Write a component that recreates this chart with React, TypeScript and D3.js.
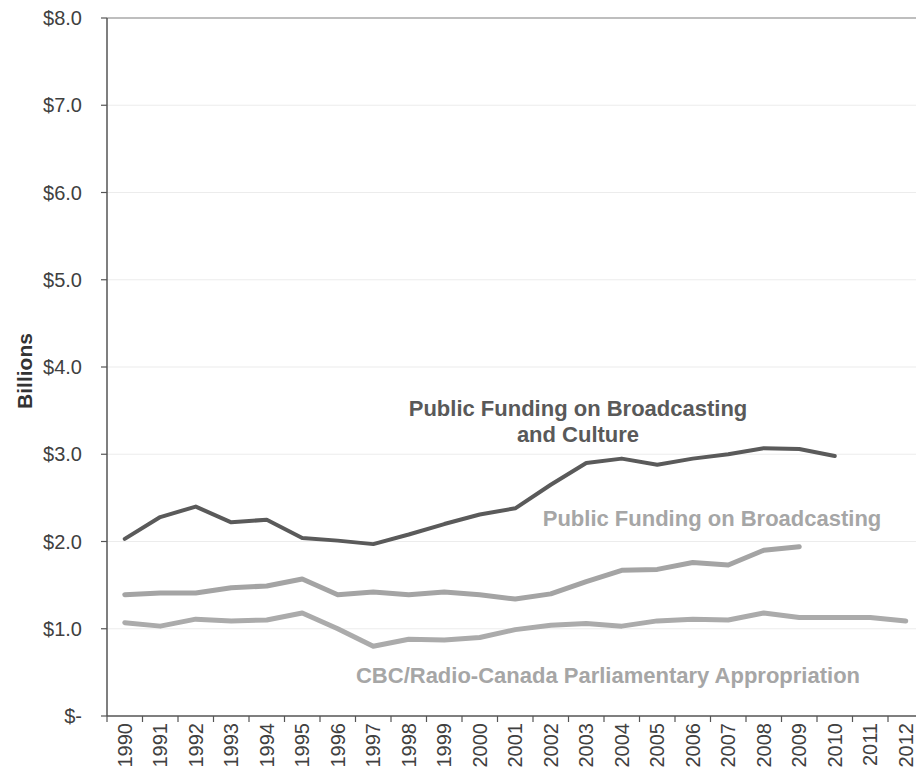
import React from "react";
import * as d3 from "d3";

const years = [
  "1990","1991","1992","1993","1994","1995","1996","1997","1998","1999","2000",
  "2001","2002","2003","2004","2005","2006","2007","2008","2009","2010","2011","2012",
];

const broadcastingAndCulture = [
  2.03, 2.28, 2.40, 2.22, 2.25, 2.04, 2.01, 1.97, 2.08, 2.20, 2.31,
  2.38, 2.65, 2.90, 2.95, 2.88, 2.95, 3.00, 3.07, 3.06, 2.98,
];

const broadcasting = [
  1.39, 1.41, 1.41, 1.47, 1.49, 1.57, 1.39, 1.42, 1.39, 1.42, 1.39,
  1.34, 1.40, 1.54, 1.67, 1.68, 1.76, 1.73, 1.90, 1.94,
];

const cbc = [
  1.07, 1.03, 1.11, 1.09, 1.10, 1.18, 1.00, 0.80, 0.88, 0.87, 0.90,
  0.99, 1.04, 1.06, 1.03, 1.09, 1.11, 1.10, 1.18, 1.13, 1.13, 1.13, 1.09,
];

const yTicks = [0, 1, 2, 3, 4, 5, 6, 7, 8];
const yTickLabels = ["$-", "$1.0", "$2.0", "$3.0", "$4.0", "$5.0", "$6.0", "$7.0", "$8.0"];

const W = 916;
const H = 773;
const FONT = "'Liberation Sans', Arial, sans-serif";

export default function App() {
  const left = 107;
  const step = 35.5;
  const x = d3
    .scaleBand<string>()
    .domain(years)
    .range([left, left + step * years.length])
    .padding(0);
  const y = d3.scaleLinear().domain([0, 8]).range([716, 18]);
  const cx = (i: number) => (x(years[i]) as number) + x.bandwidth() / 2;

  const line = d3
    .line<number>()
    .x((_, i) => cx(i))
    .y((d) => y(d))
    .curve(d3.curveLinear);

  const right = left + step * years.length;
  const boundaries = d3.range(years.length + 1).map((k) => left + k * x.bandwidth());

  return (
    <svg
      width={W}
      height={H}
      style={{ position: "absolute", left: 0, top: 0, background: "#fff" }}
      fontFamily={FONT}
    >
      {/* gridlines */}
      {yTicks.slice(1).map((t) => (
        <line
          key={"g" + t}
          x1={left}
          x2={right}
          y1={y(t)}
          y2={y(t)}
          stroke={t === 8 ? "#a8a8a8" : "#ececec"}
          strokeWidth={t === 8 ? 1.5 : 1.2}
        />
      ))}
      {/* y axis */}
      <line x1={left} x2={left} y1={y(8)} y2={y(0)} stroke="#555" strokeWidth={1.5} />
      {yTicks.map((t, i) => (
        <g key={"yt" + t}>
          <line x1={left - 6} x2={left} y1={y(t)} y2={y(t)} stroke="#555" strokeWidth={1.2} />
          <text
            x={82}
            y={y(t)}
            dy="0.35em"
            textAnchor="end"
            fontSize={20}
            fill="#404040"
          >
            {yTickLabels[i]}
          </text>
        </g>
      ))}
      <text
        transform={`translate(32,371) rotate(-90)`}
        textAnchor="middle"
        fontSize={21}
        fontWeight="bold"
        fill="#333"
      >
        Billions
      </text>
      {/* x axis */}
      <line x1={left} x2={right} y1={y(0)} y2={y(0)} stroke="#555" strokeWidth={1.5} />
      {boundaries.map((b, k) => (
        <line key={"xt" + k} x1={b} x2={b} y1={y(0)} y2={y(0) + 6} stroke="#555" strokeWidth={1.2} />
      ))}
      {years.map((yr, i) => (
        <text
          key={yr}
          transform={`translate(${cx(i) + 7},723) rotate(-90)`}
          textAnchor="end"
          fontSize={20}
          fill="#404040"
        >
          {yr}
        </text>
      ))}
      {/* series */}
      <path
        d={line(cbc) || ""}
        fill="none"
        stroke="#ababab"
        strokeWidth={5}
        strokeLinejoin="round"
        strokeLinecap="round"
      />
      <path
        d={line(broadcasting) || ""}
        fill="none"
        stroke="#a4a4a4"
        strokeWidth={5}
        strokeLinejoin="round"
        strokeLinecap="round"
      />
      <path
        d={line(broadcastingAndCulture) || ""}
        fill="none"
        stroke="#5a5a5a"
        strokeWidth={4}
        strokeLinejoin="round"
        strokeLinecap="round"
      />
      {/* annotations */}
      <text x={578} y={416} textAnchor="middle" fontSize={22} fontWeight="bold" fill="#595959">
        Public Funding on Broadcasting
      </text>
      <text x={578} y={442} textAnchor="middle" fontSize={22} fontWeight="bold" fill="#595959">
        and Culture
      </text>
      <text x={712} y={526} textAnchor="middle" fontSize={22} fontWeight="bold" fill="#a6a6a6">
        Public Funding on Broadcasting
      </text>
      <text x={608} y={683} textAnchor="middle" fontSize={22} fontWeight="bold" fill="#a6a6a6">
        CBC/Radio-Canada Parliamentary Appropriation
      </text>
    </svg>
  );
}
